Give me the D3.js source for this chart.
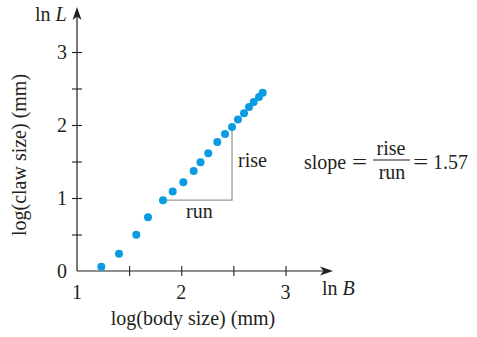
<!DOCTYPE html>
<html>
<head>
<meta charset="utf-8">
<script src="https://cdn.jsdelivr.net/npm/d3@7"></script>
<style>
  body { margin: 0; background: #fff; }
  text { font-family: "Liberation Serif", "Times New Roman", serif; fill: #231f20; }
</style>
</head>
<body>
<svg id="chart" width="477" height="337"></svg>
<script>
// ln(body size) and ln(claw size)
const lnB = [1.233, 1.403, 1.569, 1.681, 1.825, 1.918, 2.020, 2.119, 2.185, 2.259,
             2.346, 2.420, 2.487, 2.544, 2.602, 2.650, 2.695, 2.746, 2.781];
const lnL = [0.059, 0.237, 0.497, 0.736, 0.970, 1.089, 1.216, 1.370, 1.490, 1.612,
             1.767, 1.877, 1.973, 2.075, 2.160, 2.247, 2.315, 2.384, 2.442];
const xTicks = [1.5, 2, 2.5, 3];
const xLabels = [1, 2, 3];
const yTicks = [0.5, 1, 1.5, 2, 2.5, 3];
const yLabels = [0, 1, 2, 3];
const runFrom = 4, runTo = 12;  // indices of the points the rise/run triangle uses
const slopeText = "1.57";

const svg = d3.select("#chart");
const x = d3.scaleLinear().domain([1, 3]).range([77, 285.5]);
const y = d3.scaleLinear().domain([0, 3]).range([271, 52]);
const ink = "#231f20";

// rise / run guide
svg.append("path")
    .attr("d", `M${x(lnB[runFrom])},${y(lnL[runFrom])}H${x(lnB[runTo])}V${y(lnL[runTo])}`)
    .attr("fill", "none")
    .attr("stroke", "#9a9a9a")
    .attr("stroke-width", 1.3);

// axes lines with arrows
svg.append("line").attr("x1", x(1)).attr("y1", y(0)).attr("x2", 330).attr("y2", y(0))
    .attr("stroke", ink).attr("stroke-width", 1.2);
svg.append("line").attr("x1", x(1)).attr("y1", y(0)).attr("x2", x(1)).attr("y2", 10)
    .attr("stroke", ink).attr("stroke-width", 1.2);
svg.append("path").attr("d", `M333,${y(0)}L320,${y(0) - 4.5}L323.5,${y(0)}L320,${y(0) + 4.5}Z`)
    .attr("fill", ink);
svg.append("path").attr("d", `M${x(1)},7L${x(1) - 4.5},20L${x(1)},16.5L${x(1) + 4.5},20Z`)
    .attr("fill", ink);

// tick marks crossing the axes
svg.append("g")
    .attr("transform", `translate(0,${y(0) - 5})`)
    .call(d3.axisBottom(x).tickValues(xTicks).tickSize(10).tickFormat(""))
    .call(g => g.select(".domain").remove())
    .call(g => g.selectAll("line").attr("stroke", ink).attr("stroke-width", 1.1));
svg.append("g")
    .attr("transform", `translate(${x(1) + 5},0)`)
    .call(d3.axisLeft(y).tickValues(yTicks).tickSize(10).tickFormat(""))
    .call(g => g.select(".domain").remove())
    .call(g => g.selectAll("line").attr("stroke", ink).attr("stroke-width", 1.1));

// tick labels
svg.selectAll(".xl").data(xLabels).enter().append("text")
    .attr("x", d => x(d)).attr("y", 299)
    .attr("text-anchor", "middle").attr("font-size", 20)
    .text(d => d);
svg.selectAll(".yl").data(yLabels).enter().append("text")
    .attr("x", 67).attr("y", d => y(d) + 7)
    .attr("text-anchor", "end").attr("font-size", 20)
    .text(d => d);

// axis names
const lnLtext = svg.append("text").attr("x", 35).attr("y", 21).attr("font-size", 20);
lnLtext.append("tspan").text("ln ");
lnLtext.append("tspan").attr("font-style", "italic").text("L");
const lnBtext = svg.append("text").attr("x", 322).attr("y", 295).attr("font-size", 20);
lnBtext.append("tspan").text("ln ");
lnBtext.append("tspan").attr("font-style", "italic").text("B");

svg.append("text")
    .attr("x", 193).attr("y", 325)
    .attr("text-anchor", "middle").attr("font-size", 20)
    .text("log(body size) (mm)");
svg.append("text")
    .attr("transform", "translate(26,155) rotate(-90)")
    .attr("text-anchor", "middle").attr("font-size", 20)
    .text("log(claw size) (mm)");

// points
svg.selectAll(".pt").data(lnB).enter().append("circle")
    .attr("cx", d => x(d))
    .attr("cy", (d, i) => y(lnL[i]))
    .attr("r", 4)
    .attr("fill", "#0a9be0");

// rise / run labels
svg.append("text").attr("x", 238).attr("y", 167).attr("font-size", 20).text("rise");
svg.append("text").attr("x", 186).attr("y", 218).attr("font-size", 20).text("run");

// slope equation
svg.append("text").attr("x", 304).attr("y", 169).attr("font-size", 20).text("slope");
svg.append("text").attr("transform", "translate(359.5,169) scale(1.35,1)")
    .attr("font-size", 20).attr("text-anchor", "middle").text("=");
svg.append("text").attr("x", 391).attr("y", 155).attr("font-size", 20).attr("text-anchor", "middle").text("rise");
svg.append("line").attr("x1", 373).attr("x2", 410).attr("y1", 160).attr("y2", 160)
    .attr("stroke", ink).attr("stroke-width", 1.1);
svg.append("text").attr("x", 392).attr("y", 179).attr("font-size", 20).attr("text-anchor", "middle").text("run");
svg.append("text").attr("transform", "translate(420.5,169) scale(1.35,1)")
    .attr("font-size", 20).attr("text-anchor", "middle").text("=");
svg.append("text").attr("x", 433).attr("y", 169).attr("font-size", 20).text(slopeText);
</script>
</body>
</html>
